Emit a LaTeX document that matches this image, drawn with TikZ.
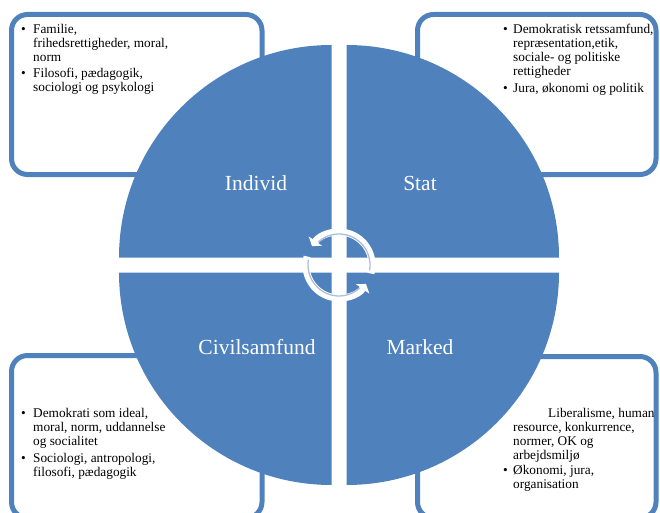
\documentclass[tikz,border=0pt]{standalone}
\usepackage{fontspec}
\setmainfont{Liberation Serif}
\usetikzlibrary{positioning}
\usetikzlibrary{arrows.meta}

\definecolor{pieblue}{RGB}{79,129,189}
\definecolor{ringline}{RGB}{172,192,222}

\tikzset{
  infobox/.style={draw=pieblue, line width=5pt, rounded corners=16pt, fill=white, inner sep=0pt},
  quad/.style={fill=pieblue},
  quadlabel/.style={text=white, font=\fontsize{21.5}{24}\selectfont, inner sep=0pt},
  boxtext/.style={anchor=north west, inner sep=0pt, font=\fontsize{13.3}{14}\selectfont},
  cyclearrow/.style={draw=white, line width=7pt, -{Triangle[length=6pt,width=16pt]}},
  cycleline/.style={draw=ringline, line width=1.3pt},
}

\begin{document}
\begin{tikzpicture}[x=1pt, y=-1pt]
    \useasboundingbox (0,0) rectangle (660,513);
    \clip (0,0) rectangle (660,513);

    % boxes behind the pie
    \node[infobox, minimum width=250.5pt, minimum height=160pt] (indbox) at (136.75,94.5) {};
    \node[infobox, minimum width=238.5pt, minimum height=160pt] (statbox) at (536.75,94.5) {};
    \node[infobox, minimum width=250.5pt, minimum height=162.5pt] (civbox) at (136.75,436.75) {};
    \node[infobox, minimum width=238.5pt, minimum height=161.5pt] (markbox) at (536.75,437.25) {};

    % the pie
    \coordinate (mid) at (339,265);
    \fill[quad] ([shift={(7.5pt,7.5pt)}]mid) -- ++(212.5,0) arc[start angle=0, end angle=-90, radius=212.5] -- cycle;
    \fill[quad] ([shift={(-7.5pt,7.5pt)}]mid) -- ++(-212.5,0) arc[start angle=180, end angle=270, radius=212.5] -- cycle;
    \fill[quad] ([shift={(-7.5pt,-7.5pt)}]mid) -- ++(-212.5,0) arc[start angle=180, end angle=90, radius=212.5] -- cycle;
    \fill[quad] ([shift={(7.5pt,-7.5pt)}]mid) -- ++(212.5,0) arc[start angle=0, end angle=90, radius=212.5] -- cycle;

    \node[quadlabel] (individ) at (256,183) {Individ};
    \node[quadlabel] (stat) at (420,183) {Stat};
    \node[quadlabel] (civil) at (257,347) {Civilsamfund};
    \node[quadlabel] (marked) at (420,347) {Marked};

    % cycle arrows in the middle
    \draw[cyclearrow] ([shift={(15:33)}]mid) arc[start angle=15, end angle=-145, radius=33];
    \draw[cyclearrow] ([shift={(-165:33)}]mid) arc[start angle=-165, end angle=-325, radius=33];
    \draw[cycleline] ([shift={(10:31)}]mid) arc[start angle=10, end angle=-132, radius=31];
    \draw[cycleline] ([shift={(-170:31)}]mid) arc[start angle=-170, end angle=-312, radius=31];

    % texts in the boxes
    \node[boxtext] (indtext) at (21,24) {\begin{tabular}{@{}p{12pt}@{}l@{}}
      \textbullet & Familie,\\
                  & frihedsrettigheder, moral,\\
                  & norm\\[2pt]
      \textbullet & Filosofi, pædagogik,\\
                  & sociologi og psykologi
    \end{tabular}};
    \node[boxtext] (stattext) at (503,24) {\begin{tabular}{@{}p{10pt}@{}l@{}}
      \textbullet & Demokratisk retssamfund,\\
                  & repræsentation,etik,\\
                  & sociale- og politiske\\
                  & rettigheder\\[3pt]
      \textbullet & Jura, økonomi og politik
    \end{tabular}};
    \node[boxtext] (civtext) at (21,407) {\begin{tabular}{@{}p{12pt}@{}l@{}}
      \textbullet & Demokrati som ideal,\\
                  & moral, norm, uddannelse\\
                  & og socialitet\\[3pt]
      \textbullet & Sociologi, antropologi,\\
                  & filosofi, pædagogik
    \end{tabular}};
    \node[boxtext] (marktext) at (503,407) {\begin{tabular}{@{}p{10pt}@{}l@{}}
                  & \hspace*{35pt}Liberalisme, human\\
                  & resource, konkurrence,\\
                  & normer, OK og\\
                  & arbejdsmiljø\\[1pt]
      \textbullet & Økonomi, jura,\\
                  & organisation
    \end{tabular}};
\end{tikzpicture}
\end{document}
